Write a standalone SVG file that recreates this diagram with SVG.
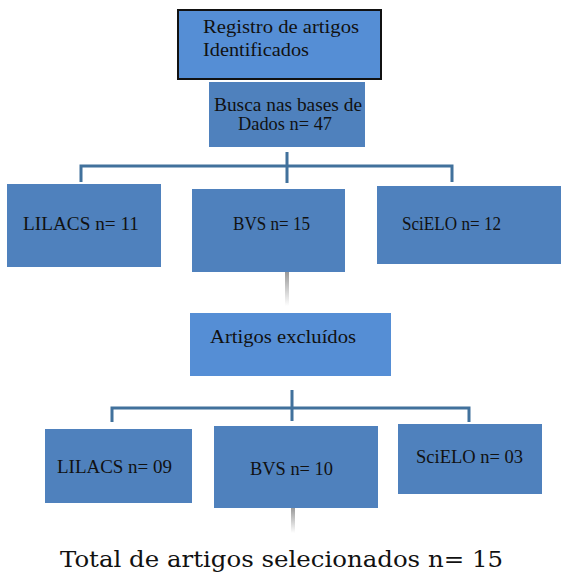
<svg xmlns="http://www.w3.org/2000/svg" width="561" height="579" viewBox="0 0 561 579">
<style>
.box{fill:#4f81bd}
.light{fill:#558ed5}
text{fill:#111}
.conn{fill:none;stroke:#41719c;stroke-width:3}
</style>
<defs>
<linearGradient id="g" x1="0" y1="0" x2="0" y2="1">
<stop offset="0" stop-color="#9a9a9a"/>
<stop offset="1" stop-color="#ffffff"/>
</linearGradient>
</defs>
<rect width="561" height="579" fill="#fff"/>
<g id="connectors">
<path class="conn" d="M287 152V183M81 182V166H452V182"/>
<path class="conn" d="M292 390V421M112 422V408H469V422"/>
<rect x="285" y="272" width="4" height="34" fill="url(#g)"/>
<rect x="291" y="508" width="4" height="25" fill="url(#g)"/>
</g>
<g font-family="Liberation Serif, Times New Roman, serif" font-size="18.5" lengthAdjust="spacingAndGlyphs">
<g id="registro">
<rect class="light" x="178" y="10" width="203" height="69" stroke="#111" stroke-width="2"/>
<text x="203" y="33" textLength="156" lengthAdjust="spacingAndGlyphs">Registro de artigos</text>
<text x="203" y="56" textLength="106" lengthAdjust="spacingAndGlyphs">Identificados</text>
</g>
<g id="busca">
<rect class="box" x="209" y="82" width="156" height="65"/>
<text x="214" y="111" textLength="148" lengthAdjust="spacingAndGlyphs">Busca nas bases de</text>
<text x="238" y="130" textLength="94" lengthAdjust="spacingAndGlyphs">Dados n= 47</text>
</g>
<g id="lilacs1">
<rect class="box" x="7" y="184" width="154" height="83"/>
<text x="23" y="230" textLength="116" lengthAdjust="spacingAndGlyphs">LILACS n= 11</text>
</g>
<g id="bvs1">
<rect class="box" x="192" y="189" width="153" height="83"/>
<text x="233" y="230" textLength="77" lengthAdjust="spacingAndGlyphs">BVS n= 15</text>
</g>
<g id="scielo1">
<rect class="box" x="377" y="186" width="184" height="78"/>
<text x="402" y="230" textLength="99" lengthAdjust="spacingAndGlyphs">SciELO n= 12</text>
</g>
<g id="excluidos">
<rect class="light" x="190" y="313" width="201" height="63"/>
<text x="210" y="343" textLength="146" lengthAdjust="spacingAndGlyphs">Artigos excluídos</text>
</g>
<g id="lilacs2">
<rect class="box" x="45" y="429" width="147" height="74"/>
<text x="57" y="473" textLength="115" lengthAdjust="spacingAndGlyphs">LILACS n= 09</text>
</g>
<g id="bvs2">
<rect class="box" x="214" y="426" width="164" height="82"/>
<text x="250" y="475" textLength="83" lengthAdjust="spacingAndGlyphs">BVS n= 10</text>
</g>
<g id="scielo2">
<rect class="box" x="398" y="424" width="144" height="70"/>
<text x="416" y="463" textLength="107" lengthAdjust="spacingAndGlyphs">SciELO n= 03</text>
</g>
</g>
<g id="total">
<text x="60" y="567" font-family="DejaVu Serif, serif" font-size="22.5" textLength="443" lengthAdjust="spacingAndGlyphs">Total de artigos selecionados n= 15</text>
</g>
</svg>
